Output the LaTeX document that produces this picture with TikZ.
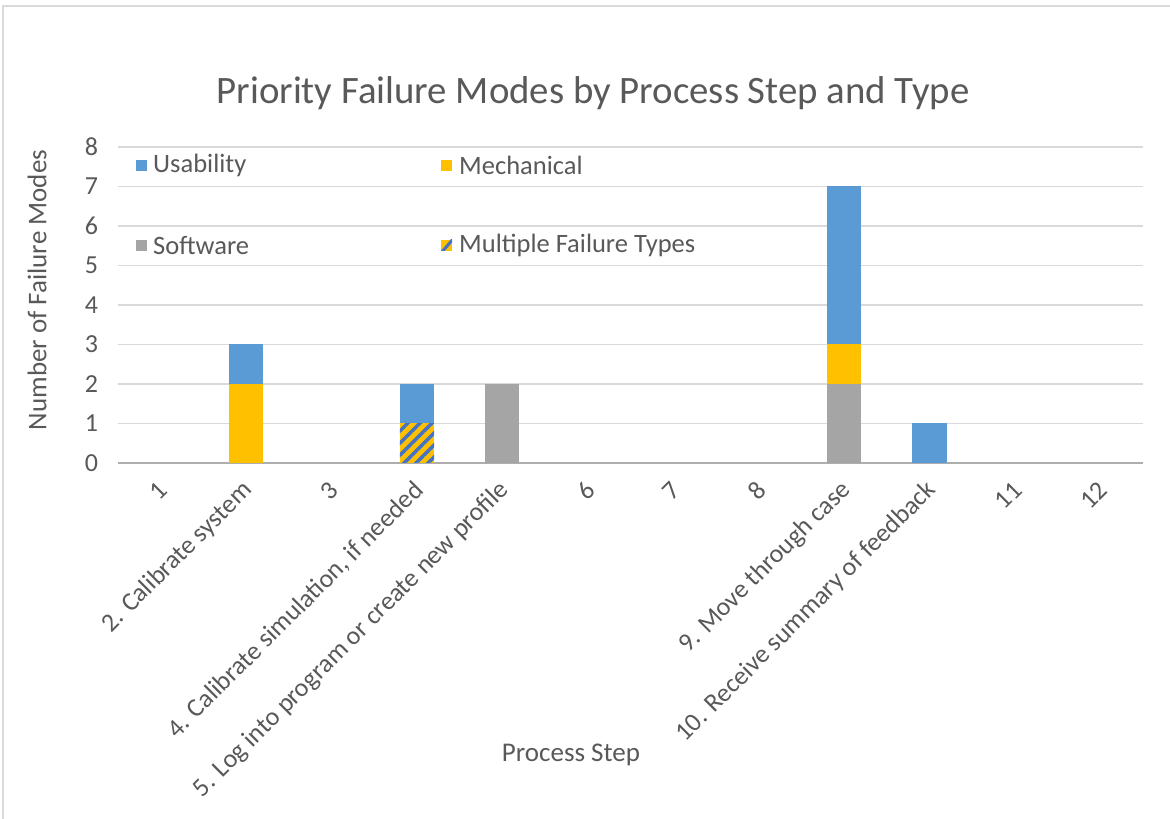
\documentclass[tikz,border=0pt]{standalone}
\usepackage{fontspec}
\setmainfont{Carlito}
\usetikzlibrary{patterns.meta}
\definecolor{usab}{HTML}{5B9BD5}
\definecolor{mech}{HTML}{FFC000}
\definecolor{soft}{HTML}{A5A5A5}
\definecolor{stripe}{HTML}{4472C4}
\definecolor{txt}{HTML}{595959}
\definecolor{grid}{HTML}{D9D9D9}
\tikzstyle{ticklab} = [text=txt, font=\fontsize{26}{30}\selectfont, anchor=east, inner sep=0pt]
\tikzstyle{catlab} = [text=txt, font=\fontsize{26}{30}\selectfont, anchor=east, rotate=45, inner sep=1pt]
\tikzstyle{legtext} = [text=txt, font=\fontsize{26.5}{30}\selectfont, anchor=west, inner sep=0pt]
\tikzstyle{multi} = [fill=mech, postaction={pattern={Lines[angle=45,distance=8.5pt,line width=3.5pt]}, pattern color=stripe}]

\begin{document}
\begin{tikzpicture}[x=1pt,y=1pt]
 \useasboundingbox (0,0) rectangle (1170,819);
 \fill[white] (0,0) rectangle (1170,819);
 % chart frame
 \draw[grid, line width=1.2pt] (3,-5) -- (3,813) -- (1175,813);

 \node (title) [text=txt, font=\fontsize{38.8}{44}\selectfont] at (593,726) {Priority Failure Modes by Process Step and Type};
 \node (ytitle) [text=txt, font=\fontsize{27}{31}\selectfont, rotate=90] at (37,529) {Number of Failure Modes};
 \node (xtitle) [text=txt, font=\fontsize{27}{31}\selectfont] at (571,64) {Process Step};

 \begin{scope}[shift={(118,356)}, x=85.42pt, y=39.5pt]
  % gridlines
  \foreach \v in {1,...,8}
   \draw[grid, line width=1.2pt] (0,\v) -- (12,\v);
  \draw[grid!80!black, line width=1.2pt] (0,0) -- (12,0);

  % value axis
  \node (t0) [ticklab] at (-0.23,0) {0};
  \node (t1) [ticklab] at (-0.23,1) {1};
  \node (t2) [ticklab] at (-0.23,2) {2};
  \node (t3) [ticklab] at (-0.23,3) {3};
  \node (t4) [ticklab] at (-0.23,4) {4};
  \node (t5) [ticklab] at (-0.23,5) {5};
  \node (t6) [ticklab] at (-0.23,6) {6};
  \node (t7) [ticklab] at (-0.23,7) {7};
  \node (t8) [ticklab] at (-0.23,8) {8};

  % bars
  \fill[mech] (1.3,0) rectangle (1.7,2);
  \fill[usab] (1.3,2) rectangle (1.7,3);
  \fill[multi] (3.3,0) rectangle (3.7,1);
  \fill[usab] (3.3,1) rectangle (3.7,2);
  \fill[soft] (4.3,0) rectangle (4.7,2);
  \fill[soft] (8.3,0) rectangle (8.7,2);
  \fill[mech] (8.3,2) rectangle (8.7,3);
  \fill[usab] (8.3,3) rectangle (8.7,7);
  \fill[usab] (9.3,0) rectangle (9.7,1);

  % category labels
  \node (c1) [catlab] at (0.54,-0.57) {1};
  \node (c2) [catlab] at (1.54,-0.57) {2. Calibrate system};
  \node (c3) [catlab] at (2.54,-0.57) {3};
  \node (c4) [catlab] at (3.54,-0.57) {4. Calibrate simulation, if needed};
  \node (c5) [catlab] at (4.54,-0.57) {5. Log into program or create new profile};
  \node (c6) [catlab] at (5.54,-0.57) {6};
  \node (c7) [catlab] at (6.54,-0.57) {7};
  \node (c8) [catlab] at (7.54,-0.57) {8};
  \node (c9) [catlab] at (8.54,-0.57) {9. Move through case};
  \node (c10) [catlab] at (9.54,-0.57) {10. Receive summary of feedback};
  \node (c11) [catlab] at (10.54,-0.57) {11};
  \node (c12) [catlab] at (11.54,-0.57) {12};
 \end{scope}

 % legend
 \fill[usab] (136,648) rectangle (147,659);
 \node (lusab) [legtext] at (153,653.5) {Usability};
 \fill[mech] (441,648) rectangle (452,659);
 \node (lmech) [legtext] at (459,653.5) {Mechanical};
 \fill[soft] (136,568) rectangle (147,579);
 \node (lsoft) [legtext] at (153,573.5) {Software};
 \begin{scope}
  \clip (441,568) rectangle (452,579);
  \fill[mech] (441,568) rectangle (452,579);
  \draw[stripe, line width=3pt] (441,566) -- (454,581);
 \end{scope}
 \node (lmulti) [legtext] at (459,573.5) {Multiple Failure Types};
\end{tikzpicture}
\end{document}
